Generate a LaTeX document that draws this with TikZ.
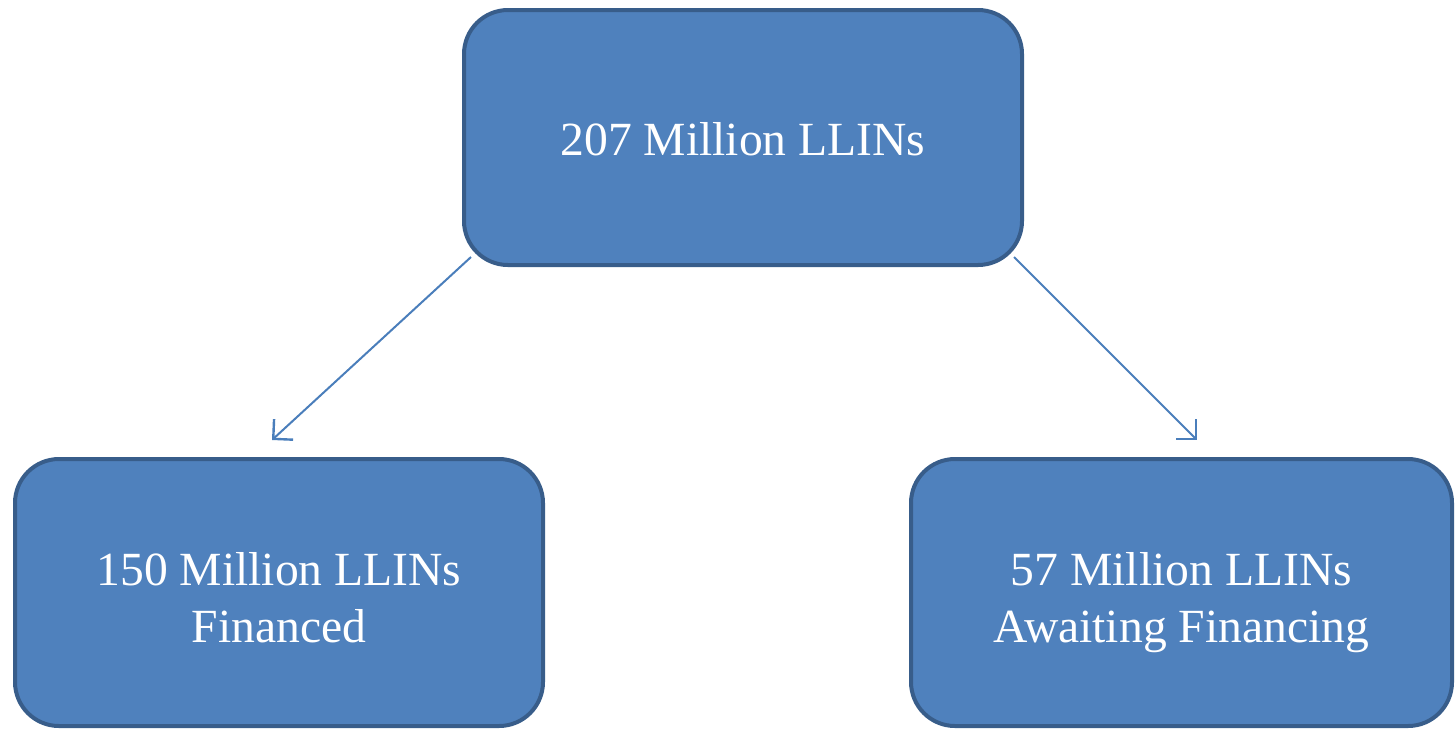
\documentclass[tikz,border=0pt]{standalone}
\usepackage{fontspec}
\setmainfont{Liberation Serif}
\usetikzlibrary{arrows.meta,calc}
\definecolor{boxfill}{HTML}{4F81BD}
\definecolor{boxline}{HTML}{385D8A}
\definecolor{linkline}{HTML}{4A7EBB}
\tikzset{%
  netbox/.style  = {shape=rectangle, rounded corners=22pt,%
                    draw=boxline, line width=2pt, fill=boxfill,%
                    text=white, align=center,%
                    font=\fontsize{23.8}{28.5}\selectfont},%
  topbox/.style  = {netbox, minimum width=279pt, minimum height=127.5pt,%
                    text height=18.5pt},%
  leafbox/.style = {netbox, minimum height=133.5pt,%
                    text height=55.8pt, text depth=6pt},%
  link/.style    = {draw=linkline, line width=1pt,%
                    -{Straight Barb[length=7pt,width=14pt,line width=1.2pt]}}%
}
\begin{document}
\begin{tikzpicture}[x=0.5pt,y=-0.5pt]
	\useasboundingbox (0,0) rectangle (1455,730);
	\node [topbox] (total) at (743,137.5) {207 Million LLINs};
	\node [leafbox,minimum width=264pt] (financed) at (279,592.5)
		{150 Million LLINs\\Financed};
	\node [leafbox,minimum width=270.5pt] (awaiting) at (1181.5,592.5)
		{57 Million LLINs\\Awaiting Financing};
	\coordinate (ltip) at (272,440);
	\coordinate (rtip) at (1197,440);
	\draw [link] ($(total.south west)+(9,-10)$) -- (ltip);
	\draw [link] ($(total.south east)+(-10,-10)$) -- (rtip);
\end{tikzpicture}
\end{document}
